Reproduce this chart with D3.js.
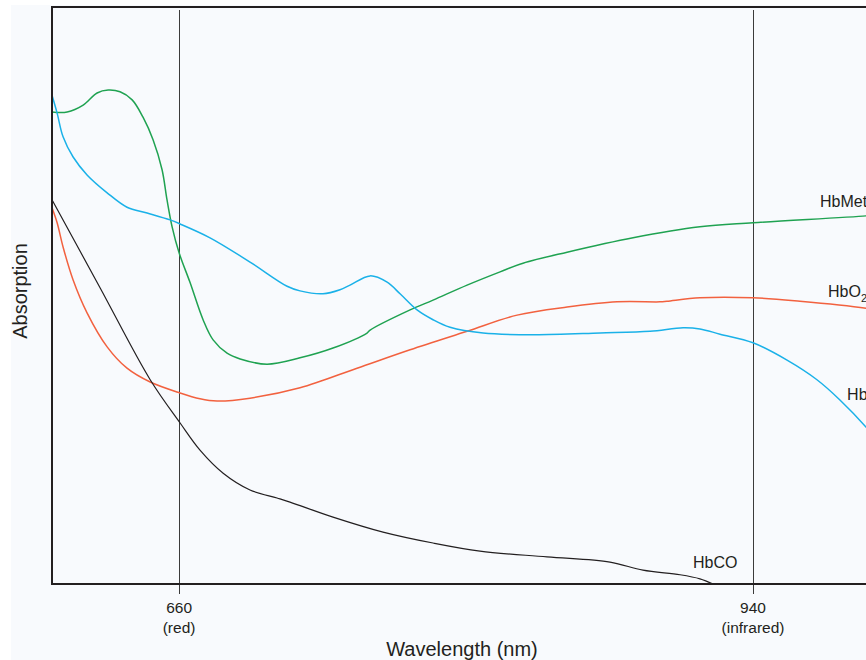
<!DOCTYPE html>
<html>
<head>
<meta charset="utf-8">
<script src="https://cdn.jsdelivr.net/npm/d3@7"></script>
<style>
    html, body { margin: 0; padding: 0; background: #ffffff; overflow: hidden; }
    #chart { width: 866px; height: 660px; }
    text { font-family: "Liberation Sans", Arial, sans-serif; fill: #231f20; }
</style>
</head>
<body>
<div id="chart"></div>
<script>
// wavelength (nm) / relative absorption (arbitrary units, 0-100)
var hbMetWave = [598, 605.4, 613.2, 620, 625.4, 631.2, 637.1, 642.4, 647.3, 651.7, 654.1, 656.6, 660, 665.4, 671.7, 676.6, 683.4, 689.8, 702.9, 719, 735.1, 751.7, 753.2, 772.7, 783.9, 800.5, 816.6, 827.8, 849.3, 881.5, 914.1, 940, 995.1, 1000];
var hbMetAbs  = [81.8, 81.8, 83.0, 85.1, 85.6, 85.3, 83.9, 80.9, 77.0, 71.8, 66.6, 61.9, 57.4, 52.2, 45.8, 42.3, 40.0, 39.0, 38.1, 39.2, 40.9, 43.5, 44.0, 47.5, 49.2, 51.8, 54.1, 55.6, 57.5, 60.0, 61.9, 62.6, 63.8, 64.0];

var hbWave = [598, 600.5, 603.4, 608.3, 615.1, 624.9, 634.6, 644.4, 655.6, 660.5, 675.1, 694.6, 712.7, 719, 730.2, 738.5, 743.4, 753.2, 761.5, 767.8, 776.1, 783.9, 792.2, 808.3, 832.7, 865.4, 889.8, 905.9, 914.1, 923.9, 940, 956.6, 971.2, 982.4, 995.1, 1000];
var hbAbs  = [84.7, 81.6, 77.5, 74.0, 70.9, 67.8, 65.3, 64.3, 63.1, 62.4, 60.0, 55.8, 51.6, 50.8, 50.3, 51.0, 51.8, 53.4, 52.3, 50.3, 47.5, 45.8, 44.5, 43.5, 43.2, 43.5, 43.8, 44.4, 44.2, 43.3, 41.8, 38.8, 35.4, 31.9, 27.2, 25.0];

var hbO2Wave = [598, 600.5, 603.4, 608.3, 615.1, 624.9, 634.6, 645.9, 660.5, 670.2, 678.5, 694.6, 719, 746.8, 772.7, 800.5, 824.9, 849.3, 873.7, 894.6, 898, 914.1, 940, 962.9, 995.1, 1000];
var hbO2Abs  = [65.2, 62.6, 58.4, 52.7, 47.0, 41.1, 37.4, 35.0, 33.1, 32.1, 31.7, 32.2, 34.0, 37.4, 40.6, 43.8, 46.6, 48.0, 48.9, 48.9, 49.0, 49.6, 49.6, 49.0, 47.8, 47.5];

var hbCOWave = [598, 621.5, 645.9, 660.5, 670.2, 681.5, 694.6, 707.8, 714.1, 735.1, 759.5, 783.9, 806.8, 839.5, 870.2, 886.3, 904.4, 914.1, 920.5];
var hbCOAbs  = [66.6, 51.3, 35.4, 27.9, 23.2, 19.2, 16.3, 14.9, 14.2, 11.6, 9.0, 7.1, 5.7, 4.7, 3.8, 2.4, 1.6, 0.9, 0.0];

var markWaves = [660, 940];
var markNames = ["(red)", "(infrared)"];

var seriesNames  = ["HbMet", "HbO2", "Hb", "HbCO"];
var seriesColors = ["#1fa251", "#f2613f", "#1ab1e8", "#231f20"];
var labelWave = [972.7, 976.6, 985.9, 910.7];
var labelAbs  = [65.4, 49.8, 31.9, 2.8];

function zip(w, a) {
    return w.map(function(d, i) { return {wave: d, abs: a[i]}; });
}

function initChart(containerID) {
    var margin = {top: 7, left: 52};
    var width = 824;
    var height = 577;

    var svg = d3.select('#' + containerID)
        .append('svg')
        .attr('width', 866)
        .attr('height', 660);

    svg.append("rect")
        .attr("x", 11)
        .attr("y", 5)
        .attr("width", 900)
        .attr("height", 700)
        .attr("fill", "#f8fafd");

    var xScale = d3.scaleLinear().domain([598, 1000]).range([0, width]);
    var yScale = d3.scaleLinear().domain([0, 100]).range([height, 0]);

    var g = svg.append("g")
        .attr("transform", "translate(" + margin.left + "," + margin.top + ")");

    // reference wavelengths
    g.selectAll(".mark")
        .data(markWaves)
        .enter().append("line")
        .attr("class", "mark")
        .attr("x1", function(d) { return Math.round(xScale(d)) + 0.5; })
        .attr("x2", function(d) { return Math.round(xScale(d)) + 0.5; })
        .attr("y1", 3)
        .attr("y2", height + 10)
        .style("stroke", "#3b3b3b")
        .style("stroke-width", 1);

    var line = d3.line()
        .x(function(d) { return xScale(d.wave); })
        .y(function(d) { return yScale(d.abs); })
        .curve(d3.curveCatmullRom.alpha(0.5));

    var series = [
        zip(hbMetWave, hbMetAbs),
        zip(hbO2Wave, hbO2Abs),
        zip(hbWave, hbAbs),
        zip(hbCOWave, hbCOAbs)
    ];

    g.selectAll(".line")
        .data(series)
        .enter().append("path")
        .attr("class", "line")
        .attr("fill", "none")
        .attr("stroke", function(d, i) { return seriesColors[i]; })
        .attr("stroke-width", function(d, i) { return i === 3 ? 1.2 : 1.5; })
        .attr("d", line);

    // frame
    g.append("rect")
        .attr("x", 0)
        .attr("y", 0)
        .attr("width", width)
        .attr("height", height)
        .attr("fill", "none")
        .attr("stroke", "#231f20")
        .attr("stroke-width", 2);

    // curve labels
    var labels = g.selectAll(".lbl")
        .data(seriesNames)
        .enter().append("text")
        .attr("class", "lbl")
        .attr("x", function(d, i) { return xScale(labelWave[i]); })
        .attr("y", function(d, i) { return yScale(labelAbs[i]); })
        .style("font-size", "16px");

    labels.each(function(d) {
        var t = d3.select(this);
        if (d === "HbO2") {
            t.append("tspan").text("HbO");
            t.append("tspan").attr("dy", 5).style("font-size", "11px").text("2");
        } else {
            t.text(d);
        }
    });

    // x tick labels
    var ticks = g.selectAll(".tick-lbl")
        .data(markWaves)
        .enter().append("text")
        .attr("class", "tick-lbl")
        .attr("text-anchor", "middle")
        .style("font-size", "15.5px");

    ticks.append("tspan")
        .attr("x", function(d) { return xScale(d); })
        .attr("y", height + 29)
        .text(function(d) { return d; });

    ticks.append("tspan")
        .attr("x", function(d) { return xScale(d); })
        .attr("y", height + 49)
        .text(function(d, i) { return markNames[i]; });

    g.append("text")
        .attr("x", 410)
        .attr("y", height + 72)
        .attr("text-anchor", "middle")
        .style("font-size", "20px")
        .text("Wavelength (nm)");

    g.append("text")
        .attr("transform", "rotate(-90)")
        .attr("x", -284)
        .attr("y", -25)
        .attr("text-anchor", "middle")
        .style("font-size", "20px")
        .text("Absorption");
}

initChart("chart");
</script>
</body>
</html>
